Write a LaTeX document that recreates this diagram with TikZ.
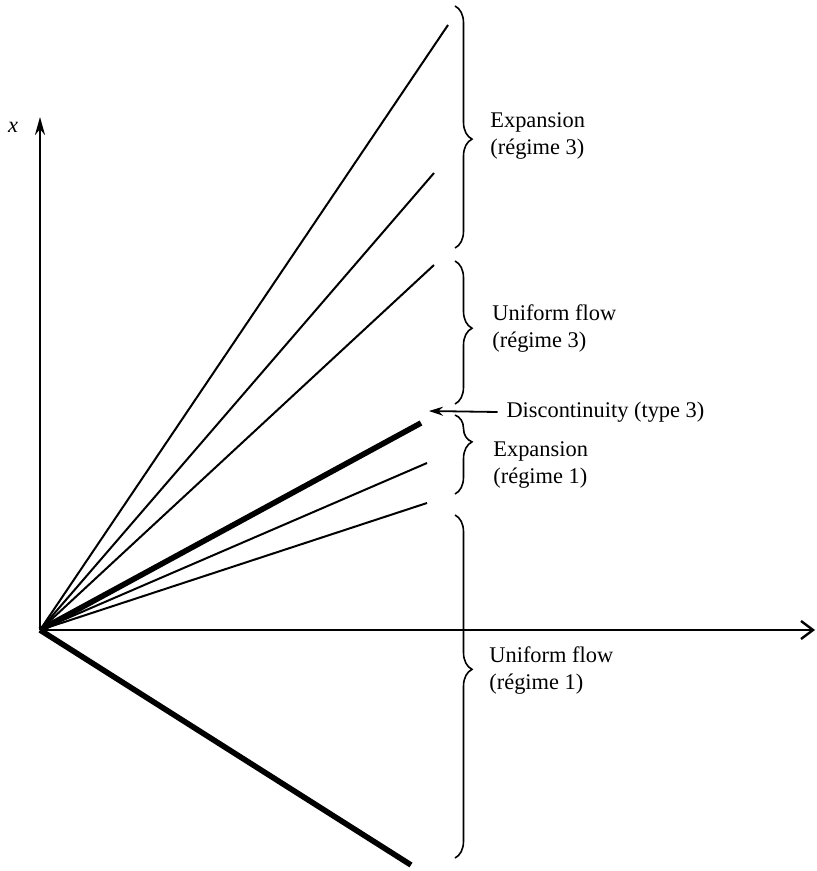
\documentclass[tikz,border=0pt]{standalone}
\usepackage{fontspec}
\setmainfont{Liberation Serif}
\usetikzlibrary{arrows.meta,positioning,decorations.pathreplacing}

\begin{document}
\begin{tikzpicture}[
  x=0.5pt, y=-0.5pt,
  ray/.style={line width=1pt},
  shock/.style={line width=2.8pt},
  axis/.style={line width=1.2pt},
  brc/.style={decorate, decoration={brace, amplitude=8.5pt, aspect=#1}, line width=0.8pt},
  brc/.default=0.5,
  lbl/.style={anchor=west, align=left, inner sep=0pt, font=\fontsize{11.2}{13.5}\selectfont},
  arr/.style={-{Stealth[length=7pt,width=4.5pt]}, line width=0.9pt}
]
  \useasboundingbox (0,0) rectangle (816,871);
  % axes
  \coordinate (O) at (40,630);
  \coordinate (ytop) at (40,117);
  \coordinate (xend) at (815,630);
  \draw[axis, -{Stealth[length=9pt,width=5pt]}] (O) -- (ytop);
  \draw[axis, -{Straight Barb[length=6pt,width=9pt]}] (O) -- (xend);
  \node[font=\fontsize{11.2}{13.5}\selectfont\itshape] (xlbl) at (13,127) {x};
  % characteristics from the origin
  \coordinate (e1) at (448,25);
  \coordinate (e2) at (434,173);
  \coordinate (e3) at (434,265);
  \coordinate (e4) at (421,423);
  \coordinate (e5) at (427,463);
  \coordinate (e6) at (427,503);
  \coordinate (s1) at (411,865);
  \draw[ray] (O) -- (e1);
  \draw[ray] (O) -- (e2);
  \draw[ray] (O) -- (e3);
  \draw[shock] (O) -- (e4);
  \draw[ray] (O) -- (e5);
  \draw[ray] (O) -- (e6);
  \draw[shock] (O) -- (s1);
  % braces and labels
  \draw[brc=0.55] (455,6) -- (455,248);
  \draw[brc=0.47] (455,261) -- (455,404);
  \draw[brc=0.34] (455,415) -- (455,494);
  \draw[brc=0.45] (455,515) -- (455,858);
  \node[lbl] (exp3) at (490,136.5) {Expansion\\(régime 3)};
  \node[lbl] (uni3) at (492,328.5) {Uniform flow\\(régime 3)};
  \node[lbl] (exp1) at (493,465) {Expansion\\(régime 1)};
  \node[lbl] (uni1) at (489,671) {Uniform flow\\(régime 1)};
  \node[lbl, outer xsep=4.5pt] (disc) at (497.5,412) {Discontinuity (type 3)};
  \coordinate (dtip) at (429,411);
  \draw[arr] (disc.west) -- (dtip);
\end{tikzpicture}
\end{document}
